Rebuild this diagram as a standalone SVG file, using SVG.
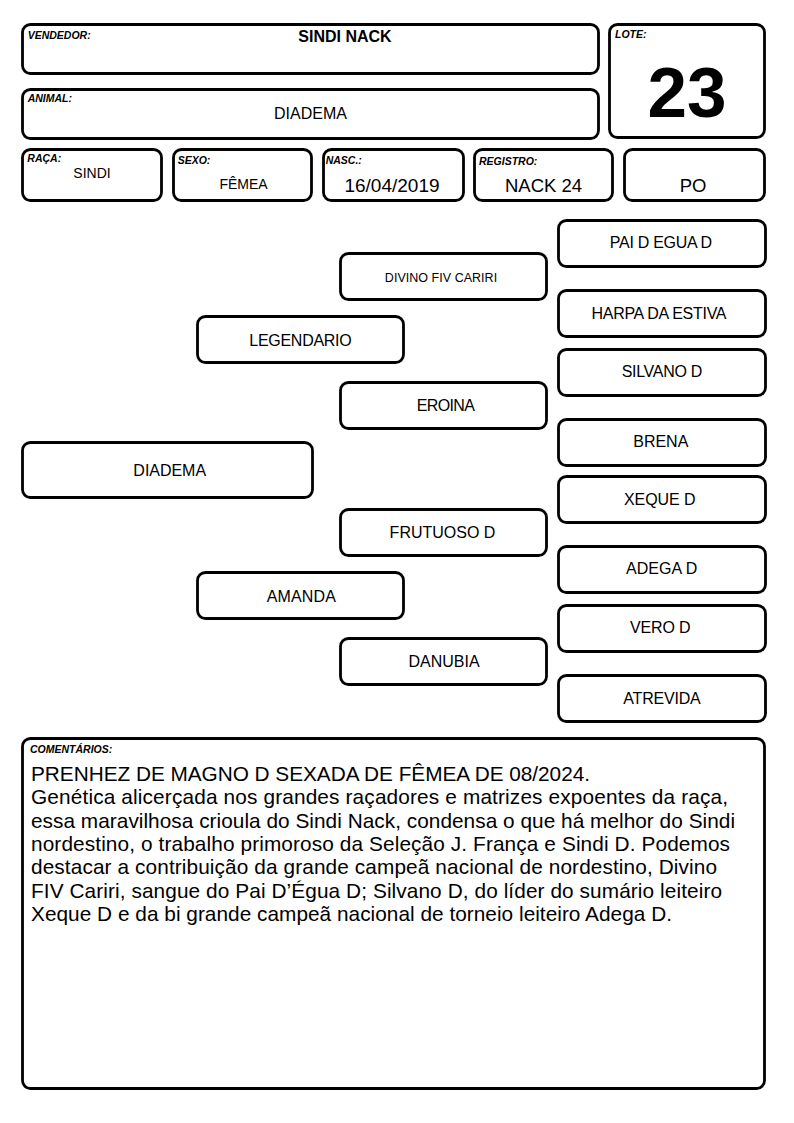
<svg xmlns="http://www.w3.org/2000/svg" width="794" height="1123" viewBox="0 0 794 1123">
<style>
  .box { fill: #ffffff; stroke: #000000; stroke-width: 2.8; }
  .lbl { font-family: "Liberation Sans", Arial, sans-serif; font-size: 10.5px; font-weight: bold; font-style: italic; fill: #000000; }
  .val { font-family: "Liberation Sans", Arial, sans-serif; fill: #000000; text-anchor: middle; }
  .ped { font-family: "Liberation Sans", Arial, sans-serif; font-size: 16px; fill: #000000; text-anchor: middle; }
  .small { font-size: 12.5px; }
  .cmt { font-family: "Liberation Sans", Arial, sans-serif; font-size: 20.8px; fill: #000000; }
</style>
<rect x="0" y="0" width="794" height="1123" fill="#ffffff"/>

<g id="vendedor">
  <rect class="box" x="22.5" y="24.5" width="576" height="49" rx="8"/>
  <text class="lbl" x="27.7" y="39">VENDEDOR:</text>
  <text class="val" x="345" y="42.3" font-size="16" font-weight="bold">SINDI NACK</text>
</g>
<g id="animal">
  <rect class="box" x="22.5" y="89.5" width="576" height="49" rx="8"/>
  <text class="lbl" x="27.7" y="102.3">ANIMAL:</text>
  <text class="val" x="310.5" y="119" font-size="16">DIADEMA</text>
</g>
<g id="lote">
  <rect class="box" x="609.5" y="24.5" width="155" height="113" rx="8"/>
  <text class="lbl" x="615" y="38.3">LOTE:</text>
  <text class="val" x="687" y="116.7" font-size="71" font-weight="bold">23</text>
</g>
<g id="raca">
  <rect class="box" x="22.5" y="149.5" width="139" height="51" rx="8"/>
  <text class="lbl" x="27.3" y="161.7">RAÇA:</text>
  <text class="val" x="92" y="178.3" font-size="14">SINDI</text>
</g>
<g id="sexo">
  <rect class="box" x="173.5" y="149.5" width="138" height="51" rx="8"/>
  <text class="lbl" x="177.7" y="164.3">SEXO:</text>
  <text class="val" x="243.5" y="189" font-size="14">FÊMEA</text>
</g>
<g id="nasc">
  <rect class="box" x="323.5" y="149.5" width="140" height="51" rx="8"/>
  <text class="lbl" x="325.7" y="164.3">NASC.:</text>
  <text class="val" x="392" y="191.7" font-size="19">16/04/2019</text>
</g>
<g id="registro">
  <rect class="box" x="474.5" y="149.5" width="138" height="51" rx="8"/>
  <text class="lbl" x="479" y="165">REGISTRO:</text>
  <text class="val" x="543.5" y="191.7" font-size="18.5">NACK 24</text>
</g>
<g id="po">
  <rect class="box" x="624.5" y="149.5" width="140" height="51" rx="8"/>
  <text class="val" x="693" y="191.7" font-size="18.5">PO</text>
</g>

<g id="connectors"></g>

<g id="ped-diadema">
  <rect class="box" x="22.5" y="442.5" width="290" height="55" rx="8"/>
  <text class="ped" x="169.7" y="476" textLength="72.7" lengthAdjust="spacing">DIADEMA</text>
</g>
<g id="ped-legendario">
  <rect class="box" x="197.5" y="316.5" width="206" height="46" rx="8"/>
  <text class="ped" x="300.5" y="346" textLength="102.3" lengthAdjust="spacing">LEGENDARIO</text>
</g>
<g id="ped-amanda">
  <rect class="box" x="197.5" y="572.5" width="206" height="46" rx="8"/>
  <text class="ped" x="301.3" y="601.7" textLength="69.3" lengthAdjust="spacing">AMANDA</text>
</g>
<g id="ped-divino">
  <rect class="box" x="340.5" y="253.5" width="206" height="46" rx="8"/>
  <text class="ped small" x="441" y="281.7" textLength="112.3" lengthAdjust="spacing">DIVINO FIV CARIRI</text>
</g>
<g id="ped-eroina">
  <rect class="box" x="340.5" y="382.5" width="206" height="46" rx="8"/>
  <text class="ped" x="445.8" y="410.7" textLength="58.3" lengthAdjust="spacing">EROINA</text>
</g>
<g id="ped-frutuoso">
  <rect class="box" x="340.5" y="509.5" width="206" height="46" rx="8"/>
  <text class="ped" x="442.5" y="538">FRUTUOSO D</text>
</g>
<g id="ped-danubia">
  <rect class="box" x="340.5" y="638.5" width="206" height="46" rx="8"/>
  <text class="ped" x="444" y="667">DANUBIA</text>
</g>

<g id="ped-pai-d-egua">
  <rect class="box" x="558.5" y="220.5" width="207" height="46" rx="8"/>
  <text class="ped" x="661" y="247.5" textLength="102.3" lengthAdjust="spacing">PAI D EGUA D</text>
</g>
<g id="ped-harpa">
  <rect class="box" x="558.5" y="290.5" width="207" height="46" rx="8"/>
  <text class="ped" x="659" y="319" textLength="135" lengthAdjust="spacing">HARPA DA ESTIVA</text>
</g>
<g id="ped-silvano">
  <rect class="box" x="558.5" y="349.5" width="207" height="46" rx="8"/>
  <text class="ped" x="662" y="376.5" textLength="80.7" lengthAdjust="spacing">SILVANO D</text>
</g>
<g id="ped-brena">
  <rect class="box" x="558.5" y="419.5" width="207" height="46" rx="8"/>
  <text class="ped" x="660.8" y="446.5" textLength="55" lengthAdjust="spacing">BRENA</text>
</g>
<g id="ped-xeque">
  <rect class="box" x="558.5" y="476.5" width="207" height="46" rx="8"/>
  <text class="ped" x="659.8" y="505" textLength="71.7" lengthAdjust="spacing">XEQUE D</text>
</g>
<g id="ped-adega">
  <rect class="box" x="558.5" y="546.5" width="207" height="46" rx="8"/>
  <text class="ped" x="661.7" y="574" textLength="71.3" lengthAdjust="spacing">ADEGA D</text>
</g>
<g id="ped-vero">
  <rect class="box" x="558.5" y="605.5" width="207" height="46" rx="8"/>
  <text class="ped" x="660.3" y="633.3" textLength="60.7" lengthAdjust="spacing">VERO D</text>
</g>
<g id="ped-atrevida">
  <rect class="box" x="558.5" y="675.5" width="207" height="46" rx="8"/>
  <text class="ped" x="662" y="704" textLength="77.3" lengthAdjust="spacing">ATREVIDA</text>
</g>

<g id="comentarios">
  <rect class="box" x="22.5" y="738.5" width="742" height="350" rx="8"/>
  <text class="lbl" x="30" y="752.7">COMENTÁRIOS:</text>
  <text class="cmt" x="31" y="781" textLength="559" lengthAdjust="spacing">PRENHEZ DE MAGNO D SEXADA DE FÊMEA DE 08/2024.</text>
  <text class="cmt" x="31" y="804.3" textLength="697" lengthAdjust="spacing">Genética alicerçada nos grandes raçadores e matrizes expoentes da raça,</text>
  <text class="cmt" x="31" y="827.6" textLength="704" lengthAdjust="spacing">essa maravilhosa crioula do Sindi Nack, condensa o que há melhor do Sindi</text>
  <text class="cmt" x="31" y="850.9" textLength="699" lengthAdjust="spacing">nordestino, o trabalho primoroso da Seleção J. França e Sindi D. Podemos</text>
  <text class="cmt" x="31" y="874.2" textLength="686" lengthAdjust="spacing">destacar a contribuição da grande campeã nacional de nordestino, Divino</text>
  <text class="cmt" x="31" y="897.5" textLength="691" lengthAdjust="spacing">FIV Cariri, sangue do Pai D’Égua D; Silvano D, do líder do sumário leiteiro</text>
  <text class="cmt" x="31" y="920.8" textLength="641" lengthAdjust="spacing">Xeque D e da bi grande campeã nacional de torneio leiteiro Adega D.</text>
</g>
</svg>
